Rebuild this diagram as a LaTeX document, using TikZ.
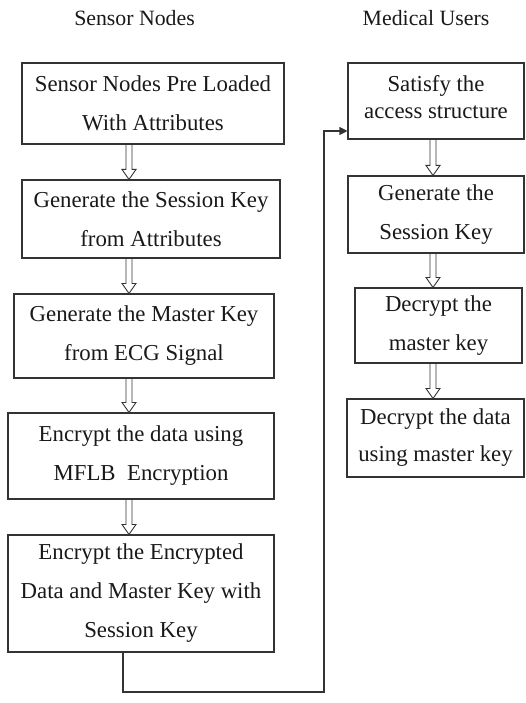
\documentclass[tikz,border=0pt]{standalone}
\usepackage{fontspec}
\setmainfont{Liberation Serif}
\usetikzlibrary{calc,arrows.meta}

\tikzset{
  stepbox/.style={draw=black!80, line width=1.1pt, inner sep=0pt, align=center,
    font=\fontsize{22.8}{39}\selectfont, text=black!90},
  header/.style={font=\fontsize{21.8}{26}\selectfont, text=black!90},
  hollow/.style={draw=black!80, line width=0.9pt, line join=miter},
  loopline/.style={draw=black!80, line width=1.1pt},
}

% hollow down arrow between two boxes, at the x of a given coordinate
\newcommand\hollowdown[3]{%
  \draw[hollow] ($(#1.south -| #3)+(-3,0)$) -- ($(#2.north -| #3)+(-3,-10)$)
    -- ++(-4,0) -- (#2.north -| #3) -- ($(#2.north -| #3)+(7,-10)$)
    -- ++(-4,0) -- ($(#1.south -| #3)+(3,0)$);}

\begin{document}
\begin{tikzpicture}[x=1pt,y=-1pt]
\useasboundingbox (0,0) rectangle (525,703);

% column headings
\node[header] (hs) at (134.5,18) {Sensor Nodes};
\node[header] (hm) at (426,18) {Medical Users};

% sensor node side
\node[stepbox, minimum width=262pt, minimum height=81pt] (s1) at (153,103.5)
  {Sensor Nodes Pre Loaded\\With Attributes};
\node[stepbox, minimum width=258pt, minimum height=78pt] (s2) at (151,219)
  {Generate the Session Key\\from Attributes};
\node[stepbox, minimum width=260pt, minimum height=84pt] (s3) at (144,336)
  {Generate the Master Key\\from ECG Signal};
\node[stepbox, minimum width=266pt, minimum height=86pt] (s4) at (141,456)
  {Encrypt the data using\\MFLB~ Encryption};
\node[stepbox, minimum width=266pt, minimum height=117pt] (s5) at (141,593.5)
  {Encrypt the Encrypted\\Data and Master Key with\\Session Key};

% medical user side
\node[stepbox, minimum width=176pt, minimum height=76pt,
      font=\fontsize{22.8}{27}\selectfont] (m1) at (436,101)
  {Satisfy the\\access structure\\[-19pt]\mbox{}};
\node[stepbox, minimum width=176pt, minimum height=77pt] (m2) at (436,214.5)
  {Generate the\\Session Key};
\node[stepbox, minimum width=167pt, minimum height=75pt] (m3) at (438.5,325.5)
  {Decrypt the\\master key};
\node[stepbox, minimum width=177pt, minimum height=78pt,
      font=\fontsize{22.8}{37}\selectfont] (m4) at (435.5,438)
  {Decrypt the data\\using master key};

% arrow columns
\coordinate (ax) at (129,0);
\coordinate (bx) at (433,0);

\hollowdown{s1}{s2}{ax}
\hollowdown{s2}{s3}{ax}
\hollowdown{s3}{s4}{ax}
\hollowdown{s4}{s5}{ax}

\hollowdown{m1}{m2}{bx}
\hollowdown{m2}{m3}{bx}
\hollowdown{m3}{m4}{bx}

% hand-over from the sensor side to the medical users
\coordinate (l1) at (123,692);
\coordinate (l2) at (324,692);
\coordinate (l3) at (324,131);
\draw[loopline, -{Triangle[length=8pt,width=8pt]}]
  (s5.south -| l1) -- (l1) -- (l2) -- (l3) -- (l3 -| m1.west);
\end{tikzpicture}
\end{document}
